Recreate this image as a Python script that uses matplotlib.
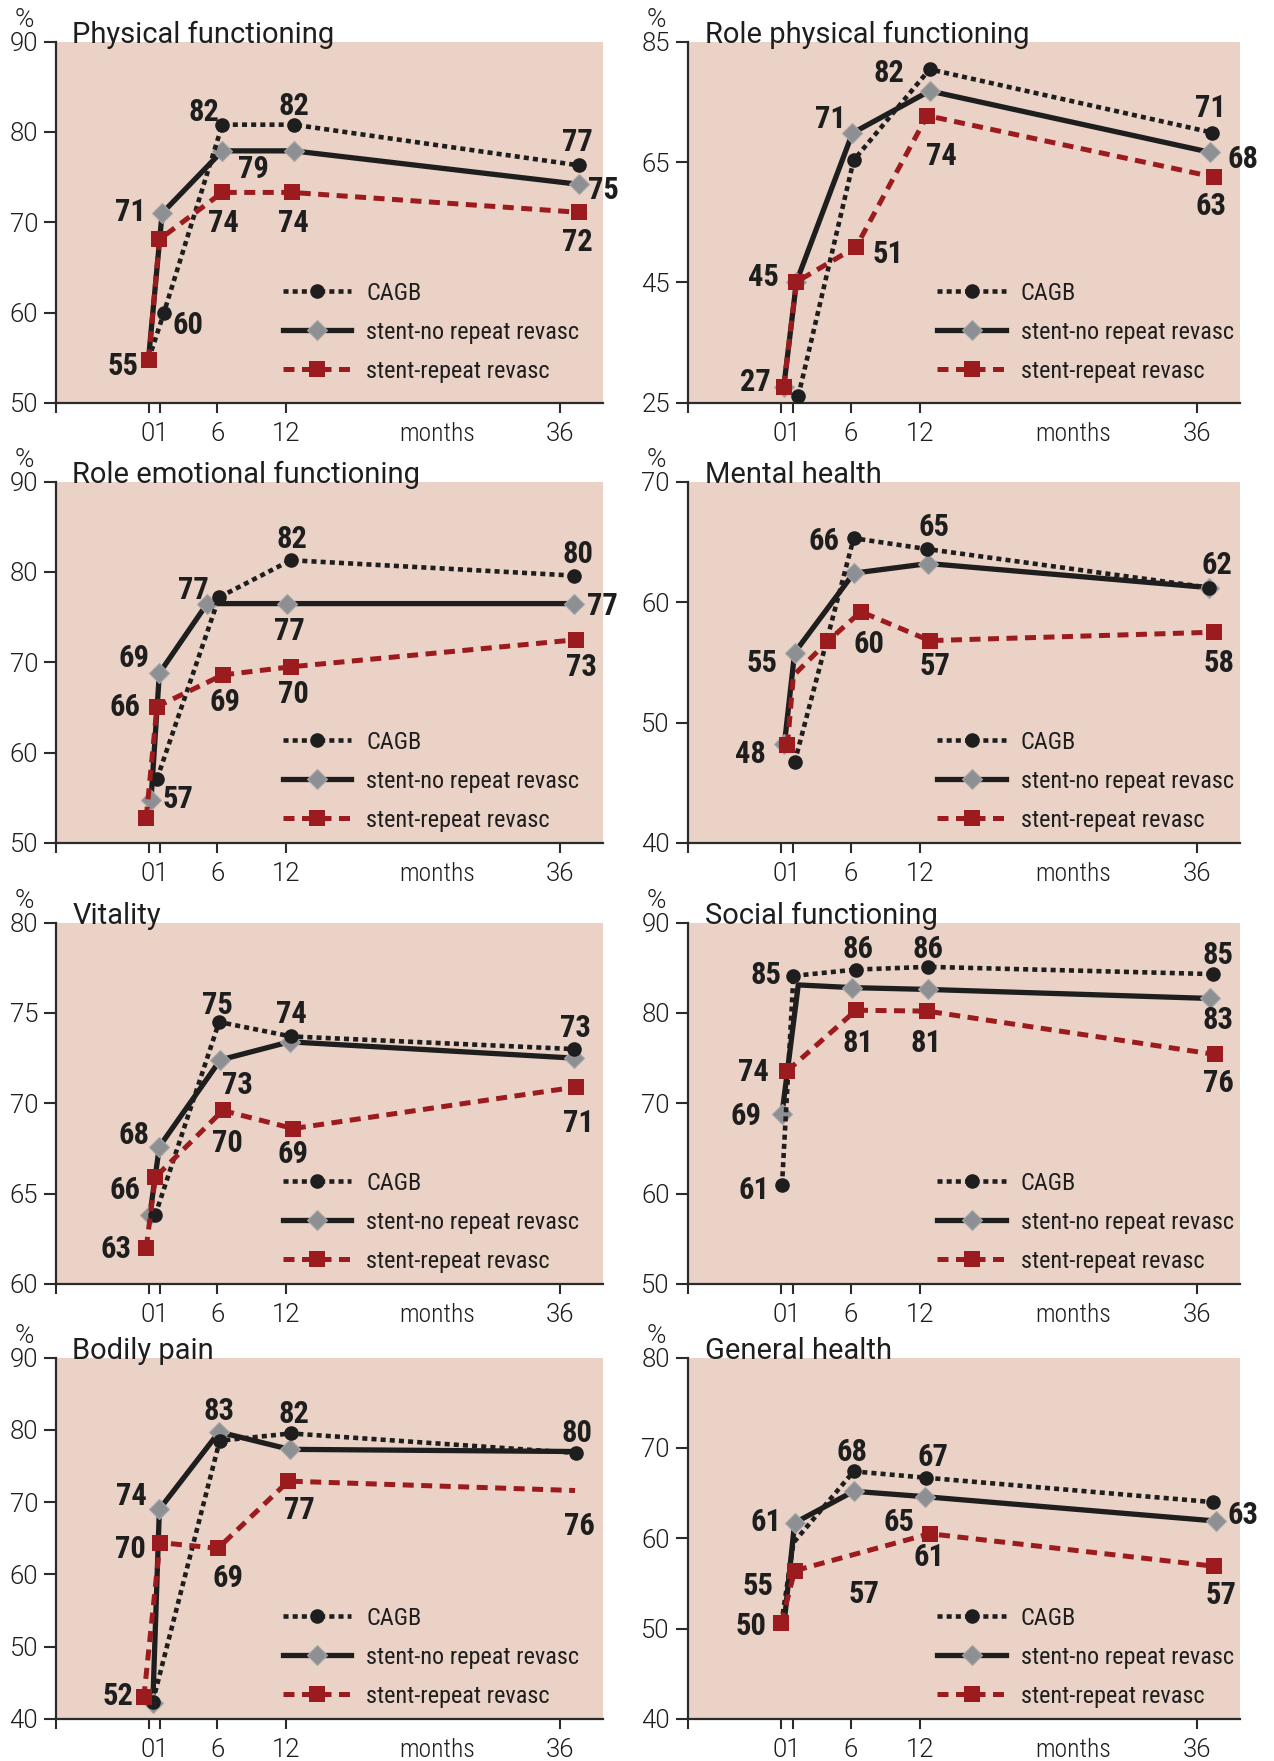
"""
SF-36 domain scores over 36 months follow-up: CAGB vs stent groups.
Eight small panels in a 4 x 2 grid.
"""

import matplotlib
matplotlib.use('Agg')
import matplotlib.pyplot as plt
from matplotlib.lines import Line2D

COND = ['Roboto Condensed', 'Liberation Sans', 'DejaVu Sans']
WIDE = ['Roboto', 'Liberation Sans', 'DejaVu Sans']
plt.rcParams['font.family'] = COND

# ---------------------------------------------------------------- data
TITLES = ['Physical functioning', 'Role physical functioning',
          'Role emotional functioning', 'Mental health',
          'Vitality', 'Social functioning',
          'Bodily pain', 'General health']
Y_RANGES = [(50, 90), (25, 85), (50, 90), (40, 70),
            (60, 80), (50, 90), (40, 90), (40, 80)]
Y_STEPS = [10, 20, 10, 10, 5, 10, 10, 10]

MONTH_TICKS = [0, 1, 6, 12, 36]
MONTH_TEXT = ['', '', '6', '12', '36']
EXTRA_TEXT = ['01', 'months']
SERIES_NAMES = ['CAGB', 'stent-no repeat revasc', 'stent-repeat revasc']

# plotted positions (months, %)
CAGB_X = [[0, 1.26, 6.17, 12.14, 36.0], [1.4, 6.0, 12.3, 35.7],
          [0.7, 5.9, 11.9, 35.6], [1.1, 6.0, 12.1, 35.5],
          [0.55, 5.9, 11.9, 35.6], [0.05, 1.0, 6.2, 12.2, 35.8],
          [0.35, 5.95, 11.9, 35.8], [0, 1.0, 6.0, 12.0, 35.8]]
CAGB_Y = [[54.8, 59.9, 80.8, 80.8, 76.3], [26.1, 65.3, 80.4, 69.9],
          [57.1, 77.2, 81.3, 79.6], [46.7, 65.3, 64.4, 61.2],
          [63.8, 74.5, 73.7, 73.0], [60.9, 84.1, 84.8, 85.1, 84.3],
          [42.4, 78.5, 79.5, 76.8], [50.6, 59.5, 67.4, 66.7, 64.0]]

NOREP_X = [[0, 1.13, 6.17, 12.14, 36.0], [0.2, 1.25, 5.9, 12.3, 35.6],
           [0.2, 0.9, 4.9, 11.6, 35.6], [0.25, 1.1, 6.0, 12.2, 35.5],
           [0.1, 0.9, 6.0, 11.8, 35.6], [0.05, 1.4, 5.9, 12.2, 35.6],
           [0.35, 0.9, 5.9, 11.8, 35.6], [0.3, 1.1, 6.0, 11.9, 36.1]]
NOREP_Y = [[55.0, 71.0, 77.9, 77.9, 74.2], [27.7, 45.1, 69.8, 76.8, 66.6],
           [54.8, 68.8, 76.5, 76.5, 76.5], [48.2, 55.8, 62.4, 63.2, 61.2],
           [63.8, 67.6, 72.4, 73.4, 72.5], [68.8, 83.1, 82.8, 82.6, 81.6],
           [42.2, 69.0, 79.7, 77.3, 77.0], [51.5, 61.7, 65.2, 64.6, 61.9]]

REP_X = [[0, 0.9, 6.17, 12.0, 36.0], [0.2, 1.25, 6.2, 12.1, 35.9],
         [-0.2, 0.7, 6.2, 11.9, 35.8], [0.5, 1.0, 3.9, 6.6, 12.3, 35.9],
         [-0.2, 0.55, 6.2, 12.1, 35.8], [0.5, 6.2, 12.1, 36.0],
         [-0.4, 0.95, 5.8, 11.7, 35.7], [0, 1.1, 12.3, 35.9]]
REP_Y = [[54.7, 68.1, 73.3, 73.3, 71.1], [27.7, 45.1, 50.9, 72.7, 62.5],
         [52.8, 65.1, 68.6, 69.5, 72.5], [48.1, 53.9, 56.8, 59.2, 56.8, 57.5],
         [62.0, 65.9, 69.6, 68.6, 70.9], [73.6, 80.3, 80.2, 75.4],
         [43.0, 64.4, 63.6, 72.9, 71.6], [50.6, 56.4, 60.5, 56.9]]

# printed values next to the points (None = no label)
CAGB_LBL = [[None, '60', '82', '82', '77'], [None, None, '82', '71'],
            ['57', None, '82', '80'], [None, '66', '65', '62'],
            [None, '75', '74', '73'], ['61', '85', '86', '86', '85'],
            [None, None, '82', '80'], [None, None, '68', '67', '63']]
NOREP_LBL = [[None, '71', '79', None, '75'], [None, None, '71', None, '68'],
             [None, '69', '77', '77', '77'], ['48', '55', None, None, None],
             [None, '68', '73', None, None], ['69', None, None, None, '83'],
             [None, '74', '83', None, None], [None, '61', '57', '65', None]]
REP_LBL = [['55', None, '74', '74', '72'], ['27', '45', '51', '74', '63'],
           [None, '66', '69', '70', '73'], [None, None, None, '60', '57', '58'],
           ['63', '66', '70', '69', '71'], ['74', '81', '81', '76'],
           ['52', '70', '69', '77', '76'], ['50', '55', '61', '57']]

# ---------------------------------------------------------------- layout
FIG_W, FIG_H = 12.74, 17.61
COL_X = [0.0440, 0.5400]
COL_W = [0.4294, 0.4333]
ROW_Y = [0.7712, 0.5213, 0.2709, 0.0239]
AX_H = 0.2052
XLIM = (-7.75, 38.05)
TICK_SCALE = 0.957          # tick marks sit slightly left of the markers
EXTRA_POS = [0.48, 24.2]

# label offsets, measured in a 1350 x 1088 grid spanning one plot area
CROP_W, CROP_H = 1350.0, 1088.0
CAGB_OFF = [[None, (61, 28), (-45, -43), (0, -61), (-3, -76)],
            [None, None, (-100, 5), (-3, -80)],
            [(53, 55), None, (3, -68), (10, -70)],
            [None, (-73, 2), (17, -72), (18, -73)],
            [None, (-5, -58), (2, -72), (5, -68)],
            [(-68, 7), (-66, -8), (4, -68), (0, -60), (12, -63)],
            [None, None, (8, -63), (3, -65)],
            [None, None, (-5, -64), (18, -67), (74, 33)]]
NOREP_OFF = [[None, (-77, -8), (77, 50), None, (60, 12)],
             [None, None, (-53, -48), None, (80, 15)],
             [None, (-63, -50), (-33, -45), (5, 76), (70, 3)],
             [(-82, 23), (-80, 25), None, None, None],
             [None, (-63, -41), (43, 70), None, None],
             [(-88, -1), None, None, None, (18, 58)],
             [None, (-68, -47), (0, -68), None, None],
             [None, (-71, -8), (25, 303), (-62, 70), None]]
REP_OFF = [[(-62, 12), None, (2, 85), (4, 85), (-3, 85)],
           [(-70, -20), (-80, -20), (78, 17), (34, 115), (-7, 82)],
           [None, (-80, -3), (5, 77), (6, 75), (13, 77)],
           [None, None, None, (20, 92), (13, 72), (13, 88)],
           [(-74, -3), (-75, 33), (12, 91), (0, 72), (6, 103)],
           [(-83, -2), (4, 92), (-2, 89), (8, 80)],
           [(-63, -8), (-72, 15), (24, 83), (28, 80), (10, 102)],
           [(-74, 2), (-90, 40), (-2, 65), (18, 81)]]

# markers not visible in the original (covered / omitted)
HIDDEN = {(0, 1): [0], (3, 2): [1], (5, 1): [1], (6, 1): [4], (6, 2): [4],
          (7, 0): [0, 1], (7, 1): [0]}

# ---------------------------------------------------------------- style
PINK = '#EAD2C6'
INK = '#1E1E1E'
AXIS = '#2B2B2B'
RED = '#9B1B1E'
GREY = '#8D8F92'
LABEL_FS = 22
TICK_FS = 18.5
LEGEND_FS = 17.5
TITLE_FS = 21

STYLES = [
    dict(color=INK, lw=3.3, ls=(0, (1.1, 0.9)), marker='o', ms=10.5,
         mfc=INK, mec=INK, mew=0),
    dict(color=INK, lw=3.8, ls='-', marker='D', ms=9.7,
         mfc=GREY, mec='#A4A6A8', mew=0.8),
    dict(color=RED, lw=3.6, ls=(0, (2.2, 1.5)), marker='s', ms=11.5,
         mfc=RED, mec=RED, mew=0),
]
Z_ORDER = [4, 3, 5]


def to_points(ax, dx, dy):
    """Convert a grid offset into points for this axes."""
    pos = ax.get_position()
    w_pt = pos.width * FIG_W * 72
    h_pt = pos.height * FIG_H * 72
    return dx / CROP_W * w_pt, -dy / CROP_H * h_pt


def draw_series(ax, k, s, xs, ys, labels, offsets):
    """Plot one group line with its markers and value labels."""
    hidden = HIDDEN.get((k, s), [])
    keep = [i for i in range(len(xs)) if i not in hidden]
    ax.plot(xs, ys, markevery=keep, zorder=Z_ORDER[s], **STYLES[s])

    digit_half = 0.71 * LABEL_FS / 2
    for i, (txt, off) in enumerate(zip(labels, offsets)):
        if txt is None:
            continue
        dx, dy = to_points(ax, *off)
        ax.annotate(txt, (xs[i], ys[i]), xytext=(dx, dy - digit_half),
                    textcoords='offset points', ha='center', va='baseline',
                    fontsize=LABEL_FS, fontweight='bold', color=INK,
                    zorder=10)


def style_axes(ax, k):
    """Spines, ticks, limits and the % / title text."""
    lo, hi = Y_RANGES[k]
    ax.set_facecolor(PINK)
    ax.set_xlim(*XLIM)
    ax.set_ylim(lo, hi)
    for side in ('top', 'right'):
        ax.spines[side].set_visible(False)
    for side in ('left', 'bottom'):
        ax.spines[side].set_color(AXIS)
        ax.spines[side].set_linewidth(1.6)

    ax.set_yticks(range(lo, hi + 1, Y_STEPS[k]))
    ax.tick_params(axis='y', direction='out', length=9, width=1.5,
                   pad=4, labelsize=TICK_FS, color=AXIS, labelcolor=INK)

    xt = [XLIM[0]] + [m * TICK_SCALE for m in MONTH_TICKS]
    ax.set_xticks(xt, [''] + MONTH_TEXT)
    ax.set_xticks(EXTRA_POS, EXTRA_TEXT, minor=True)
    ax.tick_params(axis='x', which='major', direction='out', length=7,
                   width=1.5, pad=7, labelsize=TICK_FS, color=AXIS,
                   labelcolor=INK)
    ax.tick_params(axis='x', which='minor', length=0, pad=14,
                   labelsize=TICK_FS, labelcolor=INK)

    # digits in the original are wider than its condensed letters
    numeric = ax.get_yticklabels() + ax.get_xticklabels()
    numeric.append(ax.get_xticklabels(minor=True)[0])
    for lab in numeric:
        lab.set_fontfamily(WIDE)
        lab.set_fontweight(300)
    ax.get_xticklabels(minor=True)[1].set_fontweight(300)

    ax.text(-0.057, 1.06, '%', transform=ax.transAxes, ha='center',
            va='center', fontsize=19, color=INK, family=WIDE, weight=300)
    ax.text(0.03, 0.997, TITLES[k], transform=ax.transAxes, ha='left',
            va='baseline', fontsize=TITLE_FS, color=INK, zorder=12,
            family=WIDE, weight=400)


def add_legend(ax, row, col):
    """Legend in the lower right of each panel."""
    handles = [Line2D([], [], **st) for st in STYLES]
    first = 0.295 if row == 0 else 0.27
    top = first + (LEGEND_FS * 0.6) / (AX_H * FIG_H * 72)
    hx = 0.415 if col == 0 else 0.452
    ax.legend(handles, SERIES_NAMES, loc='upper left',
              bbox_to_anchor=(hx, top), frameon=False, borderpad=0,
              borderaxespad=0, handlelength=2.8, handletextpad=0.62,
              labelspacing=0.66, fontsize=LEGEND_FS, numpoints=1,
              labelcolor=INK)


fig = plt.figure(figsize=(FIG_W, FIG_H), dpi=100)

for k in range(len(TITLES)):
    row, col = divmod(k, 2)
    ax = fig.add_axes([COL_X[col], ROW_Y[row], COL_W[col], AX_H])
    style_axes(ax, k)
    draw_series(ax, k, 1, NOREP_X[k], NOREP_Y[k], NOREP_LBL[k], NOREP_OFF[k])
    draw_series(ax, k, 0, CAGB_X[k], CAGB_Y[k], CAGB_LBL[k], CAGB_OFF[k])
    draw_series(ax, k, 2, REP_X[k], REP_Y[k], REP_LBL[k], REP_OFF[k])
    add_legend(ax, row, col)

fig.savefig('out.png', dpi=100)
